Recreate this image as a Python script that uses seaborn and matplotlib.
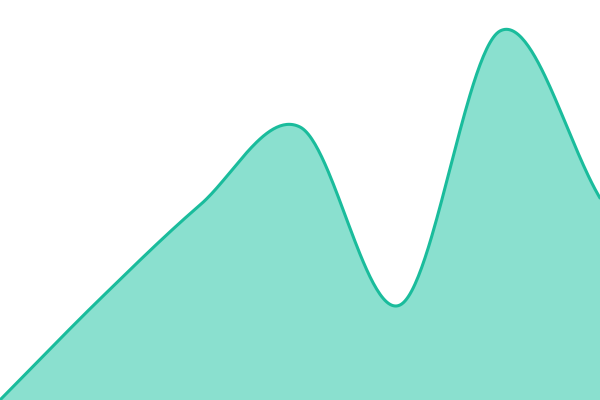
import numpy as np
import matplotlib
matplotlib.use("Agg")
import matplotlib.pyplot as plt
import seaborn as sns

# data (x index 0..6, value on a 0..400 scale)
x_pos = [0, 1, 2, 3, 4, 5, 6]
values = [0, 101, 195, 273, 95, 369, 202]

line_color = "#1abc9c"
fill_color = "#8ae0cf"


def smooth(xs, ys, n=60, c=1.0):
    # cubic hermite through the points, cardinal-style tangents
    xs = np.asarray(xs, float)
    ys = np.asarray(ys, float)
    m = np.zeros_like(ys)
    m[1:-1] = c * (ys[2:] - ys[:-2]) / (xs[2:] - xs[:-2])
    m[0] = (ys[1] - ys[0]) / (xs[1] - xs[0])
    m[-1] = (ys[-1] - ys[-2]) / (xs[-1] - xs[-2])
    out_x, out_y = [], []
    for i in range(len(xs) - 1):
        h = xs[i + 1] - xs[i]
        t = np.linspace(0, 1, n, endpoint=False)
        h00 = 2 * t**3 - 3 * t**2 + 1
        h10 = t**3 - 2 * t**2 + t
        h01 = -2 * t**3 + 3 * t**2
        h11 = t**3 - t**2
        out_x.append(xs[i] + t * h)
        out_y.append(h00 * ys[i] + h10 * h * m[i] + h01 * ys[i + 1] + h11 * h * m[i + 1])
    out_x.append([xs[-1]])
    out_y.append([ys[-1]])
    return np.concatenate(out_x), np.concatenate(out_y)


sx, sy = smooth(x_pos, values)

sns.set_theme(style="white")
fig = plt.figure(figsize=(6, 4), dpi=100)
ax = fig.add_axes([0, 0, 1, 1])
ax.fill_between(sx, sy, 0, color=fill_color, linewidth=0)
sns.lineplot(x=sx, y=sy, ax=ax, color=line_color, linewidth=2.2, sort=False)
ax.set_xlim(0, 6)
ax.set_ylim(0, 400)
ax.axis("off")
fig.savefig("out.png", dpi=100)
